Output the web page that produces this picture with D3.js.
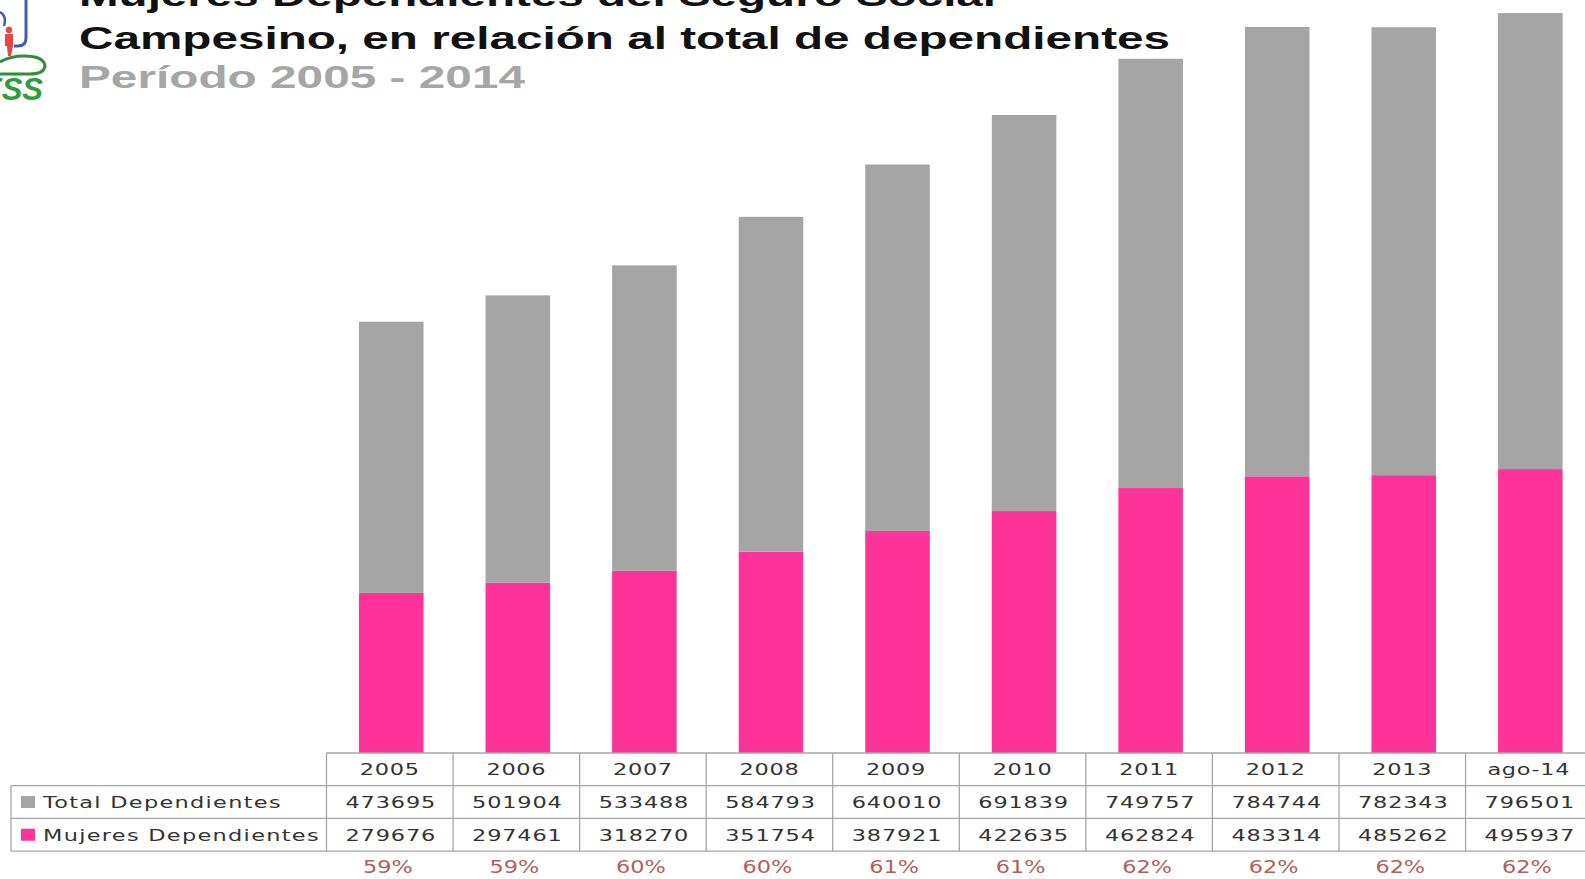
<!DOCTYPE html>
<html>
<head>
<meta charset="utf-8">
<script src="https://cdn.jsdelivr.net/npm/d3@7"></script>
<style>
  html, body { margin: 0; padding: 0; background: #fff; overflow: hidden; }
  svg { display: block; }
</style>
</head>
<body>
<svg id="chart"></svg>
<script>
const periods = ["2005", "2006", "2007", "2008", "2009", "2010", "2011", "2012", "2013", "ago-14"];
const totalDependientes = [473695, 501904, 533488, 584793, 640010, 691839, 749757, 784744, 782343, 796501];
const mujeresDependientes = [279676, 297461, 318270, 351754, 387921, 422635, 462824, 483314, 485262, 495937];
const percentLabels = ["59%", "59%", "60%", "60%", "61%", "61%", "62%", "62%", "62%", "62%"];
const seriesNames = ["Total Dependientes", "Mujeres Dependientes"];

const width = 1585;
const height = 879;

const colors = {
  "Total Dependientes": "#a5a5a5",
  "Mujeres Dependientes": "#fe3399",
};

const rows = periods.map((p, i) => ({
  period: p,
  "Mujeres Dependientes": mujeresDependientes[i],
  "Total Dependientes": totalDependientes[i],
}));

// table geometry
const tableLeft = 326.5;
const colStep = 126.56;
const labelLeft = 11;
const headerTop = 753;
const rowH = 32.7;

const x = d3
  .scaleBand()
  .domain(periods)
  .range([tableLeft, tableLeft + colStep * periods.length])
  .paddingInner(0.49)
  .paddingOuter(0.245);

const y = d3.scaleLinear().domain([0, 1300000]).range([headerTop, headerTop - 1300000 * 0.0005725]);

const stack = d3.stack().keys(["Mujeres Dependientes", "Total Dependientes"]);
const stacked = stack(rows);

const svg = d3.select("#chart").attr("width", width).attr("height", height);

/**
 * Logo (partial, cut by the frame)
 */
const logo = svg.append("g").attr("class", "logo");
logo.append("path")
  .attr("d", "M26,0 L26,38 Q26,46 18,46 L14,46")
  .attr("fill", "none").attr("stroke", "#3f5fae").attr("stroke-width", 3);
logo.append("path")
  .attr("d", "M0,12 Q7,16 4,26")
  .attr("fill", "none").attr("stroke", "#3f5fae").attr("stroke-width", 2.5);
logo.append("circle").attr("cx", 9).attr("cy", 30).attr("r", 3.2).attr("fill", "#e8463f");
logo.append("path")
  .attr("d", "M5,34 L13,34 L13,46 L11,56 L8,56 L7,46 L5,46 Z")
  .attr("fill", "#e8463f");
logo.append("path")
  .attr("d", "M0,62 Q10,56 24,56 Q44,56 45,66 Q44,74 30,74 L0,74")
  .attr("fill", "none").attr("stroke", "#2f8b3f").attr("stroke-width", 3);
logo.append("text")
  .attr("x", 43).attr("y", 100)
  .attr("text-anchor", "end")
  .attr("font-family", "Liberation Sans, Arial, sans-serif")
  .attr("font-weight", "bold").attr("font-style", "italic")
  .attr("font-size", 31)
  .attr("fill", "#2f9b3f")
  .text("IESS");

/**
 * Title
 */
const titleLines = [
  { text: "Mujeres Dependientes del Seguro Social", y: 6, len: 917, fill: "#111" },
  { text: "Campesino, en relación al total de dependientes", y: 49, len: 1091, fill: "#111" },
  { text: "Período 2005 - 2014", y: 88, len: 446, fill: "#a6a6a6" },
];
svg.append("g")
  .attr("class", "title")
  .selectAll("text")
  .data(titleLines)
  .join("text")
  .attr("x", 79)
  .attr("y", (d) => d.y)
  .attr("font-family", "Liberation Sans, Arial, sans-serif")
  .attr("font-weight", "bold")
  .attr("font-size", 32)
  .attr("fill", (d) => d.fill)
  .attr("textLength", (d) => d.len)
  .attr("lengthAdjust", "spacingAndGlyphs")
  .text((d) => d.text);

/**
 * Bars
 */
svg.append("g")
  .attr("class", "bars")
  .selectAll("g")
  .data(stacked)
  .join("g")
  .attr("fill", (s) => colors[s.key])
  .selectAll("rect")
  .data((s) => s)
  .join("rect")
  .attr("x", (d) => x(d.data.period) + 1.5)
  .attr("width", x.bandwidth())
  .attr("y", (d) => y(d[1]))
  .attr("height", (d) => y(d[0]) - y(d[1]));

/**
 * Data table
 */
const tableG = svg.append("g").attr("class", "table");
const gridColor = "#a6a6a6";
const tableRight = tableLeft + colStep * periods.length;
const colEdges = d3.range(periods.length + 1).map((i) => tableLeft + i * colStep);

// horizontal lines
tableG.append("line")
  .attr("x1", tableLeft).attr("x2", tableRight)
  .attr("y1", headerTop).attr("y2", headerTop);
[1, 2, 3].forEach((k) => {
  tableG.append("line")
    .attr("x1", labelLeft).attr("x2", tableRight)
    .attr("y1", headerTop + k * rowH).attr("y2", headerTop + k * rowH);
});
// vertical lines
colEdges.forEach((cx) => {
  tableG.append("line")
    .attr("x1", cx).attr("x2", cx)
    .attr("y1", headerTop).attr("y2", headerTop + 3 * rowH);
});
tableG.append("line")
  .attr("x1", labelLeft).attr("x2", labelLeft)
  .attr("y1", headerTop + rowH).attr("y2", headerTop + 3 * rowH);
tableG.selectAll("line").attr("stroke", gridColor).attr("stroke-width", 1.3);

const cellFont = "DejaVu Sans, Verdana, sans-serif";
const sx = 1.36;

function cellText(g, cx, cy, str, anchor, spacing) {
  g.append("text")
    .attr("transform", `translate(${cx},${cy}) scale(${sx},1)`)
    .attr("text-anchor", anchor)
    .attr("dy", "0.36em")
    .attr("font-family", cellFont)
    .attr("font-size", 16.5)
    .attr("letter-spacing", spacing)
    .attr("fill", "#333")
    .text(str);
}

const colCenter = (p) => x(p) + x.bandwidth() / 2;

periods.forEach((p) => cellText(tableG, colCenter(p), headerTop + rowH / 2, p, "middle", 0.5));
periods.forEach((p, i) =>
  cellText(tableG, colCenter(p) + 1, headerTop + rowH * 1.5, totalDependientes[i], "middle", 0.6));
periods.forEach((p, i) =>
  cellText(tableG, colCenter(p) + 1, headerTop + rowH * 2.5, mujeresDependientes[i], "middle", 0.6));

// row labels with legend swatches
seriesNames.forEach((name, k) => {
  const cy = headerTop + rowH * (k + 1.5);
  tableG.append("rect")
    .attr("x", 21).attr("y", cy - 6)
    .attr("width", 14).attr("height", 12)
    .attr("fill", colors[name]);
  cellText(tableG, 43, cy, name, "start", 0.95);
});

/**
 * Percentages
 */
svg.append("g")
  .attr("class", "percents")
  .selectAll("text")
  .data(periods)
  .join("text")
  .attr("transform", (p) => `translate(${colCenter(p) - 2},${867}) scale(1.28,1)`)
  .attr("text-anchor", "middle")
  .attr("dy", "0.36em")
  .attr("font-family", cellFont)
  .attr("font-size", 17.5)
  .attr("fill", "#b4605a")
  .text((p, i) => percentLabels[i]);
</script>
</body>
</html>
